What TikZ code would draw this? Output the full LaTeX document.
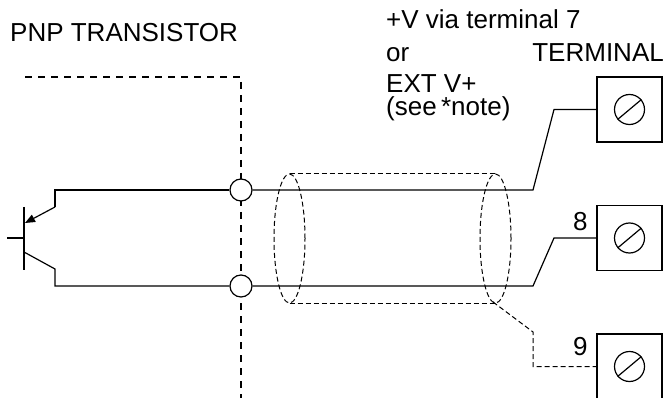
\documentclass[tikz,border=0pt]{standalone}
\usepackage{fontspec}
\setmainfont{Liberation Sans}
\usetikzlibrary{arrows.meta}
\begin{document}
\begin{tikzpicture}[x=1pt,y=-1pt,
  wire/.style={line width=1.2pt},
  bigdash/.style={line width=1.1pt, dash pattern=on 7pt off 6pt},
  smalldash/.style={line width=1pt, dash pattern=on 5pt off 3pt},
  lbl/.style={anchor=base west, inner sep=0pt, font=\fontsize{26}{30}\selectfont},
  junc/.style={circle, draw, fill=white, minimum size=22pt, inner sep=0pt, line width=1.2pt},
  tbox/.style={draw, minimum size=65pt, inner sep=0pt, line width=1.2pt},
  screw/.style={circle, draw, minimum size=30pt, inner sep=0pt, line width=1.2pt}]
\useasboundingbox (0,0) rectangle (669,398);

% texts
\node[lbl] (title) at (10,42) {PNP TRANSISTOR};
\node[lbl] (l1) at (386,29) {+V via terminal 7};
\node[lbl] (l2) at (386,62) {or};
\node[lbl, anchor=base east] (l3) at (664,62) {TERMINAL};
\node[lbl, align=left, font=\fontsize{26}{23}\selectfont] (l4) at (386,116) {EXT V+\\(see\,*note)};
\node[lbl] (n8) at (573,230) {8};
\node[lbl] (n9) at (573,355) {9};

% boundary dashed line
\coordinate (dtl) at (25,77);
\coordinate (dtr) at (241,77);
\coordinate (dbot) at (241,400);
\draw[bigdash] (dtl) -- (dtr) -- (dbot);

% terminals
\node[tbox] (t7) at (629.5,109.5) {};
\node[tbox] (t8) at (629.5,238) {};
\node[tbox] (t9) at (629.5,366.5) {};
\foreach \t in {7,8,9}{
  \node[screw] (s\t) at (t\t.center) {};
  \draw[wire] (s\t.220) -- (s\t.40);
}

% cable shield (cylinder)
\draw[smalldash] (289.5,238.5) ellipse [x radius=15.5pt, y radius=64.5pt];
\draw[smalldash] (495.5,238.5) ellipse [x radius=15.5pt, y radius=64.5pt];
\coordinate (cyl1) at (289.5,174);
\coordinate (cyl2) at (495.5,174);
\coordinate (cyl3) at (289.5,303);
\coordinate (cyl4) at (495.5,303);
\draw[smalldash] (cyl1) -- (cyl2);
\draw[smalldash] (cyl3) -- (cyl4);

% transistor
\coordinate (bb) at (7,238);
\coordinate (bc) at (24,238);
\coordinate (bt) at (24,207);
\coordinate (bm) at (24,270);
\draw[wire] (bt) -- (bm);
\draw[wire] (bb) -- (bc);
\coordinate (e1) at (55,207);
\coordinate (e0) at (25,223);
\coordinate (ec) at (55,190);
\coordinate (c0) at (24,252);
\coordinate (c1) at (55,269);
\coordinate (cc) at (55,286);
\draw[wire, -{Triangle[length=10pt,width=8pt]}] (e1) -- (e0);

% junctions
\node[junc] (j1) at (241,190) {};
\node[junc] (j2) at (241,286) {};
\draw[wire] (e1) -- (ec) -- (j1.west);
\draw[wire] (c0) -- (c1) -- (cc) -- (j2.west);

% wires to terminals
\coordinate (k1) at (533,190);
\coordinate (k1b) at (554,109.5);
\coordinate (k2) at (533,286);
\coordinate (k2b) at (554,238);
\draw[wire] (j1.east) -- (k1) -- (k1b) -- (t7.west);
\draw[wire] (j2.east) -- (k2) -- (k2b) -- (t8.west);

% drain wire
\coordinate (d0) at (493,302);
\coordinate (d1) at (533,332);
\coordinate (d2) at (533,366.5);
\draw[smalldash] (d0) -- (d1) -- (d2) -- (t9.west);
\end{tikzpicture}
\end{document}
